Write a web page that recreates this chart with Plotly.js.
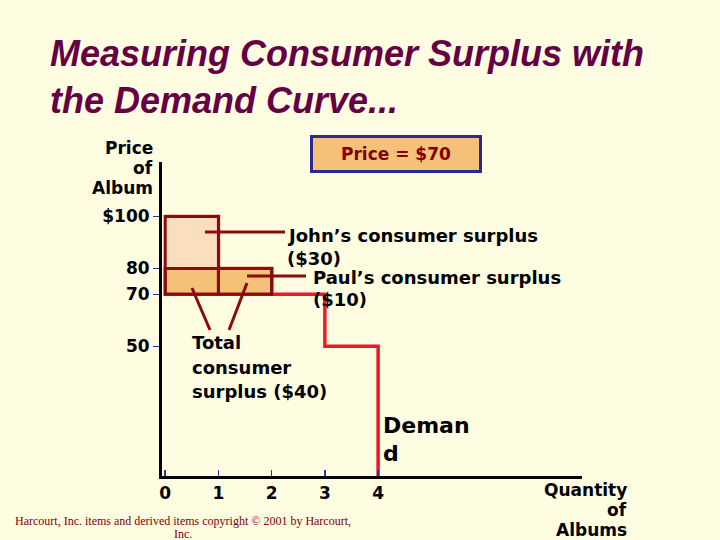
<!DOCTYPE html>
<html>
<head>
<meta charset="utf-8">
<script src="https://cdn.plot.ly/plotly-3.0.1.min.js"></script>
<style>html,body{margin:0;padding:0;background:#FEFDE2;}#chart{width:720px;height:540px;}</style>
</head>
<body>
<div id="chart"></div>
<script>
// ---- data ----
const buyers = ['John', 'Paul', 'George', 'Ringo'];
const willingness = [100, 80, 70, 50];
const price = 70;
const xTickVals = [0, 1, 2, 3, 4];
const xTickText = ['0', '1', '2', '3', '4'];
const yTickVals = [100, 80, 70, 50];
const yTickText = ['$100', '80', '70', '50'];

// ---- layout geometry (pixels) ----
const L = 162, R = 138, T = 162, B = 64;
const W = 720, H = 540;
const pw = W - L - R, ph = H - T - B;
const px = (x) => (x - L) / pw;
const py = (y) => (H - B - y) / ph;

const darkRed = '#8B0B0B';
const bold = {family: 'DejaVu Sans', size: 17, color: '#000000', weight: 'bold'};
const fnt = (o) => Object.assign({}, bold, o || {});

// demand step line
const dx = [], dy = [];
willingness.forEach((w, i) => { dx.push(i, i + 1); dy.push(w, w); });
dx.push(willingness.length); dy.push(0);

const demand = {
  x: dx, y: dy, type: 'scatter', mode: 'lines',
  line: {color: '#E8192C', width: 3.5}, hoverinfo: 'skip', showlegend: false
};

// surplus shapes from data
const shapes = [];
shapes.push({type: 'rect', xref: 'x', yref: 'y', x0: 0, x1: 1, y0: willingness[1], y1: willingness[0],
  fillcolor: '#FBDEBD', line: {width: 0}, layer: 'above'});
shapes.push({type: 'rect', xref: 'x', yref: 'y', x0: 0, x1: 2, y0: price, y1: willingness[1],
  fillcolor: '#F5C077', line: {width: 0}, layer: 'above'});
shapes.push({type: 'rect', xref: 'x', yref: 'y', x0: 0, x1: 1, y0: price, y1: willingness[0],
  line: {color: darkRed, width: 3}, layer: 'above'});
shapes.push({type: 'rect', xref: 'x', yref: 'y', x0: 0, x1: 2, y0: price, y1: willingness[1],
  line: {color: darkRed, width: 3}, layer: 'above'});
shapes.push({type: 'rect', xref: 'x', yref: 'y', x0: 1, x1: 2, y0: price, y1: willingness[1],
  line: {color: darkRed, width: 3}, layer: 'above'});

// leader lines (pixel positions converted to paper coords)
const leaders = [
  [205, 232, 285, 232],
  [247, 276, 306, 276],
  [192, 288, 210, 330],
  [247, 283, 229, 330]
];
leaders.forEach(l => shapes.push({type: 'line', xref: 'paper', yref: 'paper',
  x0: px(l[0]), y0: py(l[1]), x1: px(l[2]), y1: py(l[3]),
  line: {color: darkRed, width: 3}, layer: 'above'}));

// one annotation per text line, centred vertically on y
const line = (x, y, text, xanchor, font, align) => ({
  xref: 'paper', yref: 'paper', x: px(x), y: py(y), text: text, showarrow: false,
  xanchor: xanchor || 'left', yanchor: 'middle', align: align || 'left', font: font || bold
});

const annotations = [
  line(155, 148, 'Price', 'right'),
  line(155, 168, 'of', 'right'),
  line(155, 188, 'Album', 'right'),
  line(629, 490, 'Quantity', 'right'),
  line(629, 510, 'of', 'right'),
  line(629, 530, 'Albums', 'right'),
  line(285, 235, 'John\u2019s consumer surplus', 'left', fnt({size: 18})),
  line(285, 258, '($30)', 'left', fnt({size: 18})),
  line(311, 277, 'Paul\u2019s consumer surplus', 'left', fnt({size: 18})),
  line(311, 299, '($10)', 'left', fnt({size: 18})),
  line(190, 342, 'Total', 'left', fnt({size: 18})),
  line(190, 367, 'consumer', 'left', fnt({size: 18})),
  line(190, 391, 'surplus ($40)', 'left', fnt({size: 18})),
  line(381, 425, 'Deman', 'left', fnt({size: 22})),
  line(381, 453, 'd', 'left', fnt({size: 22})),
  Object.assign(line(396, 154, 'Price = $' + price, 'center', fnt({color: '#800000'}), 'center'),
    {bgcolor: '#F5C077', bordercolor: '#2A2A96', borderwidth: 3, borderpad: 4, width: 158, height: 24}),
  line(183, 521, 'Harcourt, Inc. items and derived items copyright \u00a9 2001 by Harcourt,', 'center',
    {family: 'Liberation Serif', size: 12, color: '#800000'}, 'center'),
  line(183, 534, 'Inc.', 'center', {family: 'Liberation Serif', size: 12, color: '#800000'}, 'center')
];

const layout = {
  width: W, height: H,
  margin: {l: L, r: R, t: T, b: B, pad: 0},
  paper_bgcolor: '#FEFDE2', plot_bgcolor: 'rgba(0,0,0,0)',
  showlegend: false,
  title: {
    text: 'Measuring Consumer Surplus with<br>the Demand Curve...',
    xref: 'container', yref: 'container', x: 50 / W, xanchor: 'left', y: 1 - 66 / H, yanchor: 'middle',
    font: {family: 'Liberation Sans', size: 36, color: '#660044', weight: 'bold', style: 'italic'}
  },
  xaxis: {
    range: [-0.06, 7.83], showgrid: false, zeroline: false,
    showline: true, linecolor: '#000000', linewidth: 3,
    tickmode: 'array', tickvals: xTickVals, ticktext: xTickText,
    ticks: 'inside', ticklen: 6, tickwidth: 1.5, tickcolor: '#333399',
    tickfont: fnt()
  },
  yaxis: {
    range: [0, 121], showgrid: false, zeroline: false,
    showline: true, linecolor: '#000000', linewidth: 3,
    tickmode: 'array', tickvals: yTickVals, ticktext: yTickText,
    ticks: 'outside', ticklen: 6, tickwidth: 1.5, tickcolor: '#333399',
    tickfont: fnt()
  },
  shapes: shapes,
  annotations: annotations
};

Plotly.newPlot('chart', [demand], layout, {displayModeBar: false, staticPlot: true});
</script>
</body>
</html>
